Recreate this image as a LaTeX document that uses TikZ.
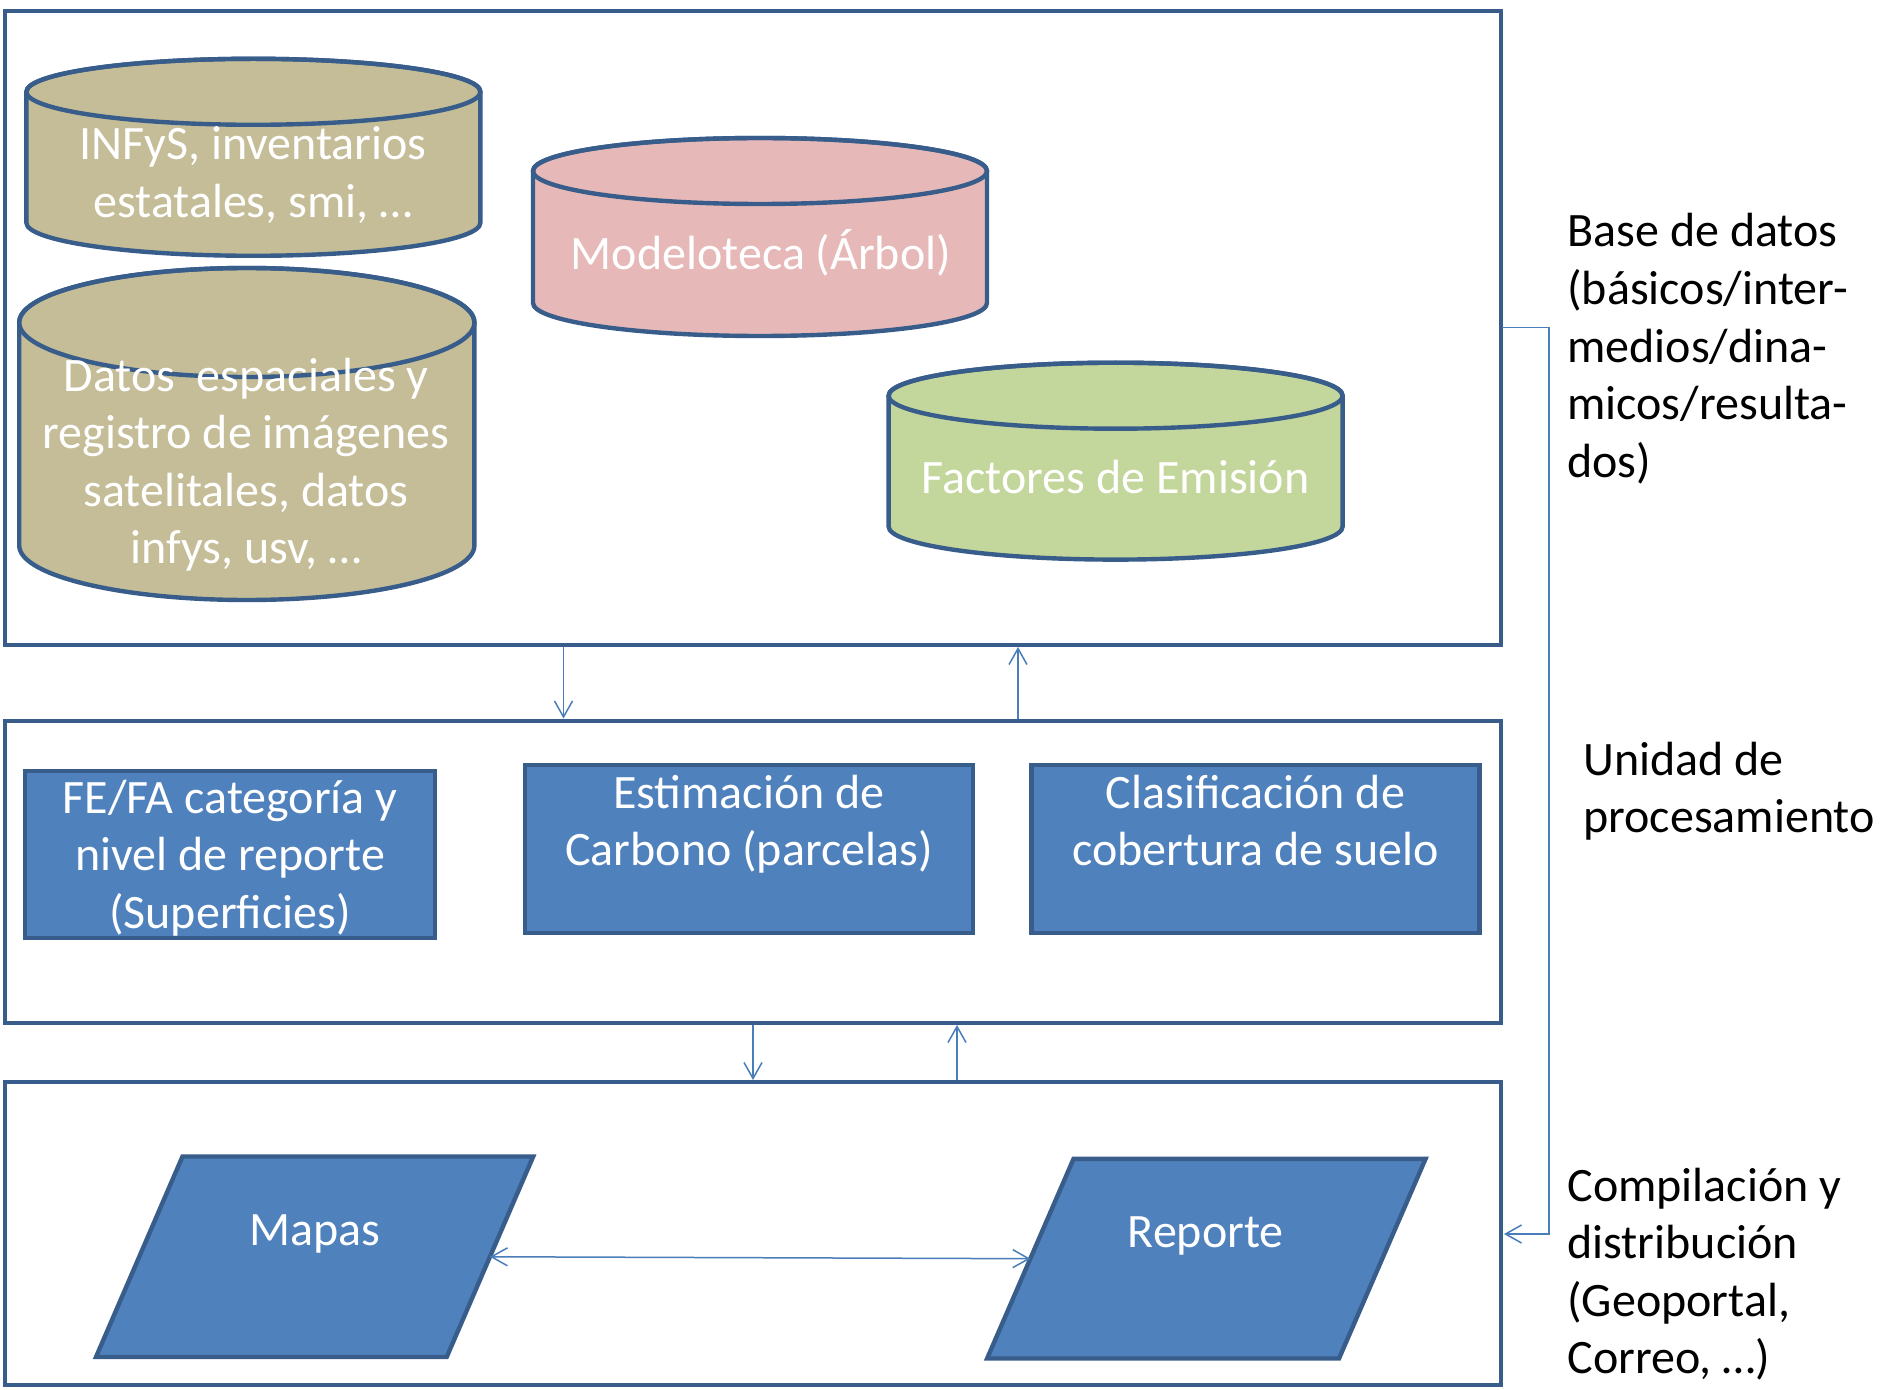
\documentclass[tikz,border=0pt]{standalone}
\usepackage{fontspec}
\setmainfont{Carlito}
\usetikzlibrary{arrows.meta,calc}
\definecolor{dkblue}{RGB}{56,93,138}
\definecolor{medblue}{RGB}{79,129,189}
\definecolor{connblue}{RGB}{74,126,187}
\definecolor{tanfill}{RGB}{196,189,151}
\definecolor{pinkfill}{RGB}{230,185,184}
\definecolor{greenfill}{RGB}{195,214,155}
\newcommand{\mycyl}[6]{%
  \pgfmathsetmacro\cyta{-(#2+#5)}%
  \pgfmathsetmacro\cytb{-(#3-#5)}%
  \filldraw[cylline, fill=#6] (#1-#4,\cyta) -- (#1-#4,\cytb)
    arc[start angle=180, end angle=360, x radius=#4, y radius=#5]
    -- (#1+#4,\cyta)
    arc[start angle=0, end angle=180, x radius=#4, y radius=#5] -- cycle;
  \draw[cylline] (#1,\cyta) ellipse[x radius=#4, y radius=#5];
}
\tikzset{
  bigbox/.style={draw=dkblue, line width=2pt, rectangle, inner sep=0pt, minimum width=748pt},
  cylline/.style={draw=dkblue, line width=2.2pt},
  procbox/.style={draw=dkblue, fill=medblue, line width=2.2pt, rectangle, inner sep=0pt},
  para/.style={draw=dkblue, fill=medblue, line width=2.2pt, line join=miter},
  wtxt/.style={text=white, align=center, inner sep=0pt, anchor=base, font=\fontsize{24pt}{28.8pt}\selectfont},
  btxt/.style={text=black, align=left, inner sep=0pt, anchor=base west, font=\fontsize{24pt}{28.8pt}\selectfont},
  conn/.style={draw=connblue, line width=0.75pt},
  arrtip/.style={-{Straight Barb[length=8pt,width=9pt]}},
  arrboth/.style={{Straight Barb[length=8pt,width=9pt]}-{Straight Barb[length=8pt,width=9pt]}}
}
\begin{document}
\begin{tikzpicture}[x=0.5pt,y=0.5pt]
\useasboundingbox[fill=white] (0,0) rectangle (1883,-1390);

% frames
\node[bigbox, minimum height=317pt] (db) at (753,-328) {};
\node[bigbox, minimum height=151.25pt] (proc) at (753,-871.75) {};
\node[bigbox, minimum height=151.5pt] (out) at (753,-1233.5) {};

% cylinders
\mycyl{253.4}{58.8}{255.8}{227}{33}{tanfill}
\node[wtxt] (infys) at (253,-217.6) {INFyS, inventarios\\estatales, smi, …};
\mycyl{246.8}{268}{600}{227.6}{54.5}{tanfill}
\node[wtxt] (datos) at (246,-563.8) {Datos\ \ espaciales y\\registro de imágenes\\satelitales, datos\\infys, usv, …};
\mycyl{760}{138}{336}{227}{33}{pinkfill}
\node[wtxt] (modelo) at (761,-270) {Modeloteca (Árbol)};
\mycyl{1115.6}{362.7}{559.6}{227}{33}{greenfill}
\node[wtxt] (factores) at (1115.6,-493) {Factores de Emisión};

% processing boxes
\node[procbox, minimum width=204.75pt, minimum height=83.5pt] (fefa) at (230,-854.5) {};
\node[wtxt] (fefat) at (230,-928.2) {FE/FA categoría y\\nivel de reporte\\(Superficies)};
\node[procbox, minimum width=224pt, minimum height=84pt] (estim) at (748.75,-849) {};
\node[wtxt] (estimt) at (749,-865.6) {Estimación de\\Carbono (parcelas)};
\node[procbox, minimum width=224pt, minimum height=84pt] (clasif) at (1255.55,-849) {};
\node[wtxt] (clasift) at (1255.5,-865.6) {Clasificación de\\cobertura de suelo};

% parallelograms
\coordinate (m1) at (182.5,-1156.5);
\coordinate (m2) at (533.2,-1156.5);
\coordinate (m3) at (446.7,-1357);
\coordinate (m4) at (96,-1357);
\filldraw[para] (m1) -- (m2) -- (m3) -- (m4) -- cycle;
\node[wtxt] (mapas) at (314.6,-1245) {Mapas};
\coordinate (r1) at (1073.5,-1158.9);
\coordinate (r2) at (1425.5,-1158.9);
\coordinate (r3) at (1339,-1358.5);
\coordinate (r4) at (987.1,-1358.5);
\filldraw[para] (r1) -- (r2) -- (r3) -- (r4) -- cycle;
\node[wtxt] (reporte) at (1205.7,-1247) {Reporte};

\coordinate (mapR) at ($(m2)!0.5!(m3)$);
\coordinate (repL) at ($(r1)!0.5!(r4)$);

% vertical connectors
\coordinate (xa) at (563.5,0);
\coordinate (xb) at (1018,0);
\coordinate (xc) at (753,0);
\coordinate (xd) at (957,0);
\draw[conn, arrtip] (db.south -| xa) -- (proc.north -| xa);
\draw[conn, arrtip] (proc.north -| xb) -- (db.south -| xb);
\draw[conn, arrtip] (proc.south -| xc) -- (out.north -| xc);
\draw[conn, arrtip] (out.north -| xd) -- (proc.south -| xd);

% double arrow
\draw[conn, arrboth] (mapR) -- (repL);

% right bracket
\coordinate (b0) at (1502,-327.7);
\coordinate (b1) at (1549,-327.7);
\coordinate (b2) at (1549,-1234);
\coordinate (b3) at (1504,-1234);
\draw[conn, arrtip] (b0) -- (b1) -- (b2) -- (b3);

% right labels
\node[btxt] (lbl1) at (1567,-477.4) {Base de datos\\(básicos/inter-\\medios/dina-\\micos/resulta-\\dos)};
\node[btxt] (lbl2) at (1583,-832.6) {Unidad de\\procesamiento};
\node[btxt] (lbl3) at (1567,-1373.8) {Compilación y\\distribución\\(Geoportal,\\Correo, …)};
\end{tikzpicture}
\end{document}
